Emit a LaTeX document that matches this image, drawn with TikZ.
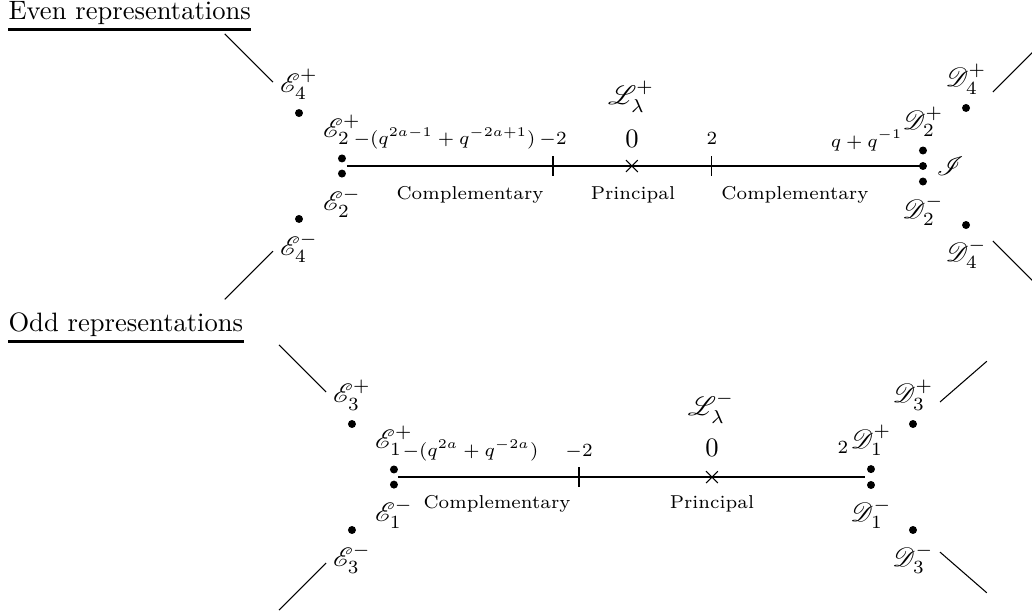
\documentclass[tikz,border=0pt]{standalone}
\usepackage{amsmath}
\usepackage{mathrsfs}
\begin{document}
\begin{tikzpicture}[
        dot/.style={circle,fill,inner sep=0pt,minimum size=3pt},
        num/.style={anchor=base,inner sep=0pt,font=\scriptsize},
        big/.style={anchor=base,inner sep=0pt},
        heading/.style={anchor=base west,inner xsep=0pt,inner ysep=1.5pt}]
    \useasboundingbox (0,0) rectangle (13.64,-8.075);
        %% Even representations
        \node[heading] (even) at (0.106,-0.264) {Even representations};
        \draw[line width=1pt] (even.south west) -- (even.south east);
        %% Axis
        \coordinate (sa) at (4.586,-2.194);
        \coordinate (ea) at (12.186,-2.194);
        \coordinate (ma) at (7.309,-2.194);
        \coordinate (pa) at (9.410,-2.194);
        \coordinate (za) at (8.353,-2.194);
        \draw[thick] (sa) -- (ea);
        \foreach \t in {ma,pa}
            \foreach \y in {90,270}
                \draw (\t) -- ++(\y:0.13);
        \foreach \y in {45,135,225,315}
            \draw (za) -- ++(\y:0.11);
        \node[num,anchor=base west] (fa) at (4.666,-1.916) {$-(q^{2a-1}+q^{-2a+1})$};
        \node[num] (mla) at (7.309,-1.907) {$-2$};
        \node[num] (pla) at (9.410,-1.907) {$2$};
        \node[big] (zla) at (8.353,-1.952) {$0$};
        \node[num,anchor=base east] (qa) at (11.935,-1.943) {$q+q^{-1}$};
        \node[big] (la) at (8.34,-1.375) {$\mathscr{L}_\lambda^+$};
        \node[num] (c1a) at (6.212,-2.637) {Complementary};
        \node[num] (pra) at (8.366,-2.637) {Principal};
        \node[num] (c2a) at (10.507,-2.637) {Complementary};
        %% Points
        \node[dot,label=above:{$\mathscr{E}_4^+$}] (e4p) at (3.952,-1.494) {};
        \node[dot,label=above:{$\mathscr{E}_2^+$}] (e2p) at (4.520,-2.094) {};
        \node[dot,label=below:{$\mathscr{E}_2^-$}] (e2m) at (4.520,-2.294) {};
        \node[dot,label=below:{$\mathscr{E}_4^-$}] (e4m) at (3.952,-2.894) {};
        \node[dot,label=above:{$\mathscr{D}_2^+$}] (d2p) at (12.199,-1.989) {};
        \node[dot,label=right:{$\mathscr{I}$}] (inf) at (12.199,-2.194) {};
        \node[dot,label=below:{$\mathscr{D}_2^-$}] (d2m) at (12.199,-2.399) {};
        \node[dot,label=above:{$\mathscr{D}_4^+$}] (d4p) at (12.768,-1.427) {};
        \node[dot,label=below:{$\mathscr{D}_4^-$}] (d4m) at (12.768,-2.974) {};
        \draw (3.608,-1.084) -- ++(135:0.9);
        \draw (3.608,-3.320) -- ++(225:0.9);
        \draw (13.124,-1.216) -- ++(45:0.9);
        \draw (13.124,-3.185) -- ++(-45:0.9);

        %% Odd representations
        \node[heading] (odd) at (0.106,-4.384) {Odd representations};
        \draw[line width=1pt] (odd.south west) -- (odd.south east);
        %% Axis
        \coordinate (sb) at (5.260,-6.305);
        \coordinate (eb) at (11.433,-6.305);
        \coordinate (mb) at (7.653,-6.305);
        \coordinate (zb) at (9.410,-6.305);
        \draw[thick] (sb) -- (eb);
        \foreach \y in {90,270}
            \draw (mb) -- ++(\y:0.13);
        \foreach \y in {45,135,225,315}
            \draw (zb) -- ++(\y:0.11);
        \node[num,anchor=base west] (fb) at (5.313,-6.040) {$-(q^{2a}+q^{-2a})$};
        \node[num] (mlb) at (7.653,-6.030) {$-2$};
        \node[big] (zlb) at (9.410,-6.040) {$0$};
        \node[num] (plb) at (11.142,-5.990) {$2$};
        \node[big] (lb) at (9.397,-5.485) {$\mathscr{L}_\lambda^-$};
        \node[num] (c1b) at (6.569,-6.725) {Complementary};
        \node[num] (prb) at (9.410,-6.725) {Principal};
        %% Points
        \node[dot,label=above:{$\mathscr{E}_3^+$}] (e3p) at (4.652,-5.604) {};
        \node[dot,label=above:{$\mathscr{E}_1^+$}] (e1p) at (5.207,-6.205) {};
        \node[dot,label=below:{$\mathscr{E}_1^-$}] (e1m) at (5.207,-6.405) {};
        \node[dot,label=below:{$\mathscr{E}_3^-$}] (e3m) at (4.652,-7.005) {};
        \node[dot,label=above:{$\mathscr{D}_1^+$}] (d1p) at (11.512,-6.200) {};
        \node[dot,label=below:{$\mathscr{D}_1^-$}] (d1m) at (11.512,-6.410) {};
        \node[dot,label=above:{$\mathscr{D}_3^+$}] (d3p) at (12.067,-5.604) {};
        \node[dot,label=below:{$\mathscr{D}_3^-$}] (d3m) at (12.067,-7.005) {};
        \draw (4.309,-5.181) -- ++(135:0.88);
        \draw (4.309,-7.441) -- ++(225:0.88);
        \draw (12.424,-5.313) -- ++(41:0.82);
        \draw (12.424,-7.297) -- ++(-41:0.82);
\end{tikzpicture}
\end{document}
